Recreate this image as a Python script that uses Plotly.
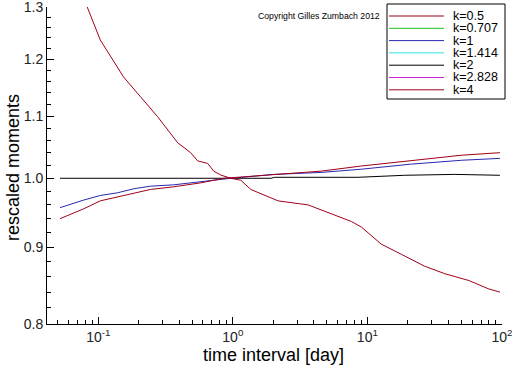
import plotly.graph_objects as go

# ---- data ----
k_labels = ["k=0.5", "k=0.707", "k=1", "k=1.414", "k=2", "k=2.828", "k=4"]
k_colors = ["#a00018", "#20c020", "#2828b0", "#30e0e0", "#000000", "#d020d0", "#a00018"]

x_k05 = [0.052, 0.0773, 0.1035, 0.139, 0.183, 0.244, 0.363, 0.577, 0.857, 2.02, 4.54, 9.02, 21.3, 50.3, 96.6]
y_k05 = [0.940, 0.954, 0.966, 0.972, 0.978, 0.983, 0.987, 0.993, 1.000, 1.006, 1.011, 1.019, 1.027, 1.036, 1.040]

x_k1 = [0.052, 0.0773, 0.1035, 0.139, 0.183, 0.206, 0.244, 0.363, 0.651, 0.918, 2.02, 4.54, 9.02, 21.3, 50.3, 96.6]
y_k1 = [0.956, 0.967, 0.974, 0.978, 0.984, 0.986, 0.988, 0.990, 0.996, 0.9995, 1.006, 1.009, 1.014, 1.022, 1.028, 1.031]

x_k2 = [0.052, 1.0, 1.92, 2.05, 8.5, 18.9, 44.6, 96.6]
y_k2 = [1.000, 1.000, 1.000, 1.0015, 1.0015, 1.0046, 1.006, 1.0046]

x_k4 = [0.0773, 0.0828, 0.1035, 0.123, 0.154, 0.206, 0.276, 0.389, 0.486, 0.548, 0.608, 0.651, 0.721,
        0.813, 0.966, 1.147, 1.36, 2.17, 3.63, 4.77, 7.60, 9.02, 12.7, 17.9, 26.6, 37.6, 56.8, 80.0, 96.6]
y_k4 = [1.315, 1.300, 1.236, 1.205, 1.168, 1.133, 1.099, 1.056, 1.040, 1.027, 1.025, 1.023, 1.011,
        1.005, 1.000, 0.997, 0.983, 0.966, 0.960, 0.951, 0.936, 0.928, 0.904, 0.890, 0.874, 0.864,
        0.855, 0.844, 0.840]

x_ticks = [0.1, 1, 10, 100]
x_ticktext = ["10<sup>-1</sup>", "10<sup>0</sup>", "10<sup>1</sup>", "10<sup>2</sup>"]
y_ticks = [0.8, 0.9, 1.0, 1.1, 1.2, 1.3]
y_ticktext = ["0.8", "0.9", "1.0", "1.1", "1.2", "1.3"]

FONT = "Liberation Sans, Arial, sans-serif"
W, H = 512, 366
L, R, T, B = 47, 10, 7, 42

fig = go.Figure()
fig.add_trace(go.Scatter(x=x_k2, y=y_k2, mode="lines", line=dict(color=k_colors[4], width=1), name=k_labels[4]))
fig.add_trace(go.Scatter(x=x_k1, y=y_k1, mode="lines", line=dict(color=k_colors[2], width=1), name=k_labels[2]))
fig.add_trace(go.Scatter(x=x_k05, y=y_k05, mode="lines", line=dict(color=k_colors[0], width=1), name=k_labels[0]))
fig.add_trace(go.Scatter(x=x_k4, y=y_k4, mode="lines", line=dict(color=k_colors[6], width=1), name=k_labels[6]))

x_minor = [m * d for d in (0.01, 0.1, 1, 10) for m in range(2, 10) if 0.04 <= m * d <= 100]
y_minor = [round(0.8 + 0.02 * i, 2) for i in range(26) if i % 5 != 0]

fig.update_xaxes(type="log", range=[-1.381, 2.0005], tickvals=x_ticks, ticktext=x_ticktext,
                 ticks="inside", ticklen=7, tickcolor="black", showline=True, linecolor="black",
                 linewidth=1, showgrid=False, zeroline=False, mirror=False, ticklabeloverflow="allow",
                 tickfont=dict(family=FONT, size=14, color="#222"),
                 minor=dict(tickvals=x_minor, ticks="inside", ticklen=4, tickcolor="black", showgrid=False))
fig.update_yaxes(type="log", range=[-0.09695, 0.11396], tickvals=y_ticks, ticktext=y_ticktext,
                 ticks="inside", ticklen=7, tickcolor="black", showline=True, linecolor="black",
                 linewidth=1, showgrid=False, zeroline=False, mirror=False, ticklabeloverflow="allow",
                 tickfont=dict(family=FONT, size=14, color="#222"),
                 minor=dict(tickvals=y_minor, ticks="inside", ticklen=4, tickcolor="black", showgrid=False))

pw, ph = W - L - R, H - T - B
def px(xp):
    return (xp - L) / pw
def py(yp):
    return (H - B - yp) / ph

shapes = []
annotations = []
# legend box
shapes.append(dict(type="rect", xref="paper", yref="paper", x0=px(387), x1=px(505), y0=py(99), y1=py(4),
                   line=dict(color="black", width=1), fillcolor="white", layer="above"))
for i, (lab, col) in enumerate(zip(k_labels, k_colors)):
    yy = 16 + 12.3 * i
    shapes.append(dict(type="line", xref="paper", yref="paper", x0=px(389), x1=px(444), y0=py(yy), y1=py(yy),
                       line=dict(color=col, width=1), layer="above"))
    annotations.append(dict(text=lab, xref="paper", yref="paper", x=px(452), y=py(yy), xanchor="left",
                            yanchor="middle", showarrow=False, borderpad=0,
                            font=dict(family=FONT, size=12.5, color="black")))

annotations.append(dict(text="Copyright Gilles Zumbach 2012", xref="paper", yref="paper", x=px(256), y=py(16),
                        xanchor="left", yanchor="middle", showarrow=False,
                        font=dict(family=FONT, size=8.7, color="black")))
annotations.append(dict(text="time interval [day]", xref="paper", yref="paper", x=px(273), y=py(355),
                        xanchor="center", yanchor="middle", showarrow=False,
                        font=dict(family=FONT, size=18, color="black")))
annotations.append(dict(text="rescaled moments", xref="paper", yref="paper", x=px(13), y=py(168),
                        xanchor="center", yanchor="middle", showarrow=False, textangle=-90,
                        font=dict(family=FONT, size=18, color="black")))

fig.update_layout(width=W, height=H, margin=dict(l=L, r=R, t=T, b=B, autoexpand=False),
                  paper_bgcolor="white", plot_bgcolor="white", showlegend=False,
                  shapes=shapes, annotations=annotations)

fig.write_html("out.html", config={"displayModeBar": False},
               post_script="document.body.style.margin='0px';")
